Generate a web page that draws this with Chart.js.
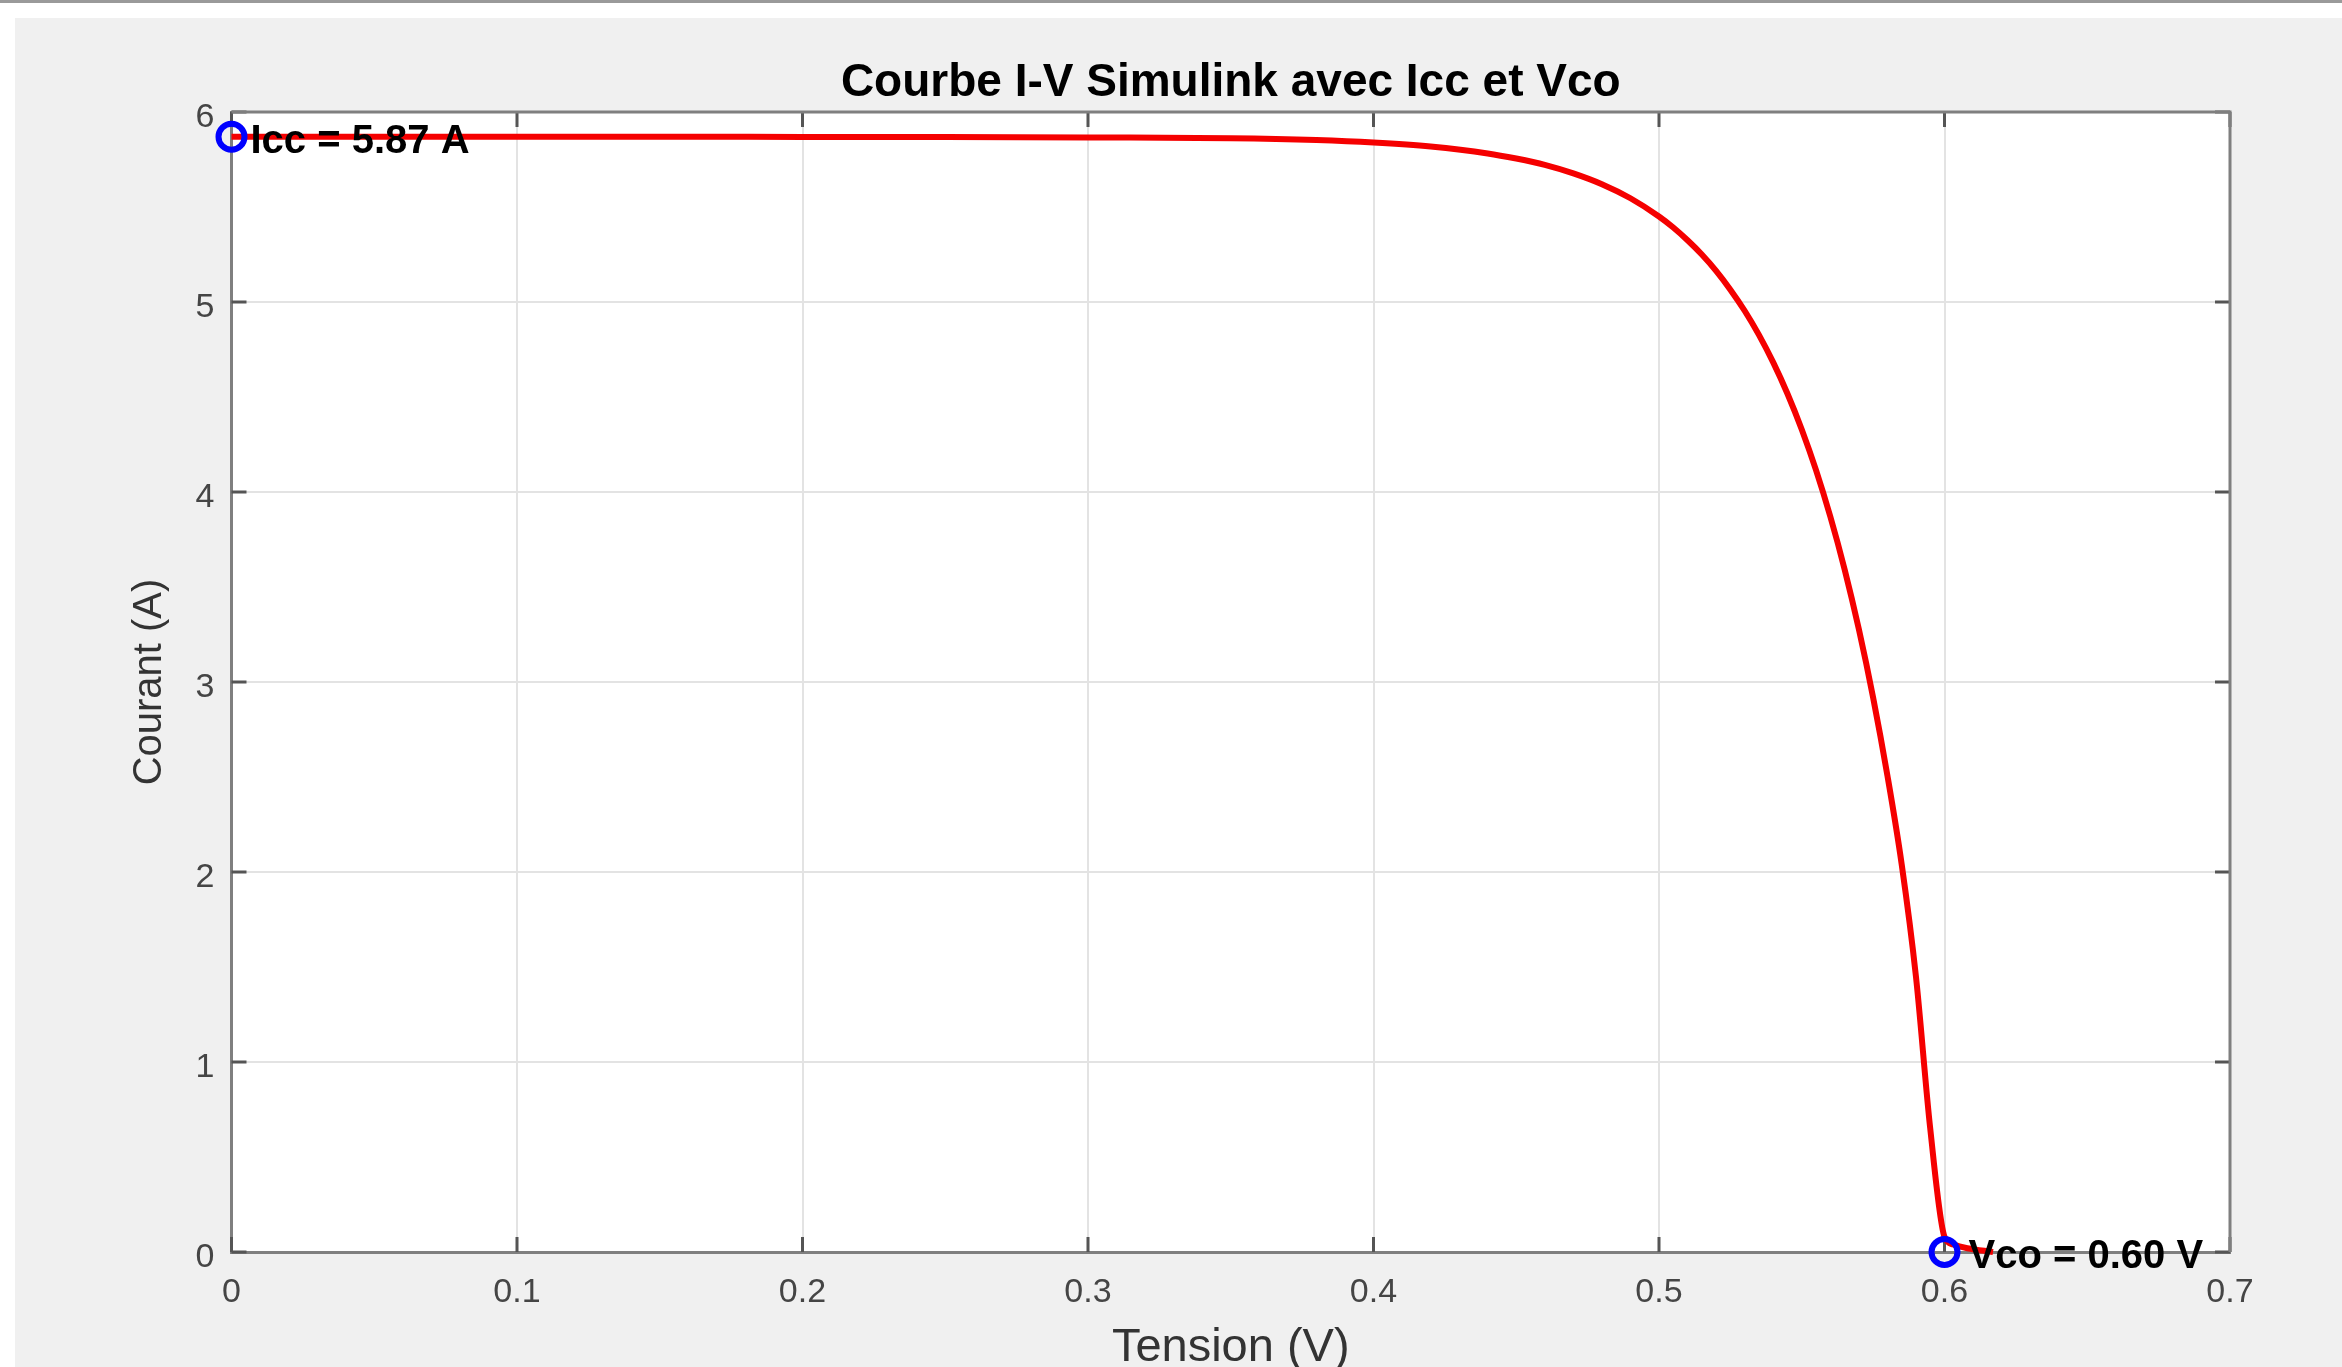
<!DOCTYPE html>
<html>
<head>
<meta charset="utf-8">
<script src="https://cdn.jsdelivr.net/npm/chart.js@4.4.1/dist/chart.umd.min.js"></script>
<style>
  html, body { margin: 0; padding: 0; background: #fff; }
  #wrap { position: relative; width: 2342px; height: 1367px; overflow: hidden; background: #fff; }
  #topline { position: absolute; left: 0; top: 0; width: 2342px; height: 3px; background: #9a9a9a; }
  #fig { position: absolute; left: 15px; top: 18px; right: 0; bottom: 0; background: #f0f0f0; }
  canvas { position: absolute; left: 0; top: 0; }
</style>
</head>
<body>
<div id="wrap">
  <div id="topline"></div>
  <div id="fig"></div>
  <canvas id="chart" width="2342" height="1367"></canvas>
</div>
<script>
// courbe I-V
const tensionV = [0, 0.05, 0.1, 0.15, 0.2, 0.25, 0.3, 0.35, 0.38, 0.4, 0.42, 0.44, 0.45, 0.46, 0.47, 0.48, 0.49, 0.5, 0.505, 0.51, 0.515, 0.52, 0.525, 0.53, 0.535, 0.54, 0.545, 0.55, 0.555, 0.56, 0.565, 0.57, 0.575, 0.58, 0.585, 0.59, 0.595, 0.6, 0.603, 0.608, 0.617];
const courantA = [5.87, 5.87, 5.87, 5.87, 5.869, 5.868, 5.866, 5.862, 5.852, 5.839, 5.818, 5.782, 5.755, 5.722, 5.677, 5.620, 5.546, 5.450, 5.392, 5.325, 5.250, 5.164, 5.065, 4.954, 4.827, 4.682, 4.517, 4.329, 4.115, 3.871, 3.594, 3.278, 2.918, 2.508, 2.041, 1.45, 0.65, 0.08, 0.04, 0.02, 0.0];

const iccValue = 5.87;
const vcoValue = 0.60;

const xTickLabels = ['0', '0.1', '0.2', '0.3', '0.4', '0.5', '0.6', '0.7'];
const yTickLabels = ['0', '1', '2', '3', '4', '5', '6'];

const titleText = 'Courbe I-V Simulink avec Icc et Vco';
const xTitle = 'Tension (V)';
const yTitle = 'Courant (A)';

const FONT = '"Liberation Sans", Arial, Helvetica, sans-serif';

// fond blanc de la zone de tracé
const plotBg = {
  id: 'plotBg',
  beforeDraw(chart) {
    const { ctx, chartArea: a } = chart;
    ctx.save();
    ctx.fillStyle = '#ffffff';
    ctx.fillRect(a.left, a.top, a.right - a.left, a.bottom - a.top);
    ctx.restore();
  }
};

// cadre + petites graduations vers l'intérieur (style MATLAB)
const boxTicks = {
  id: 'boxTicks',
  beforeDatasetsDraw(chart) {
    const { ctx, chartArea: a, scales } = chart;
    const len = 15;
    ctx.save();
    ctx.strokeStyle = '#555555';
    ctx.lineWidth = 3;
    ctx.beginPath();
    scales.x.ticks.forEach(t => {
      const px = scales.x.getPixelForValue(t.value);
      ctx.moveTo(px, a.bottom); ctx.lineTo(px, a.bottom - len);
      ctx.moveTo(px, a.top); ctx.lineTo(px, a.top + len);
    });
    scales.y.ticks.forEach(t => {
      const py = scales.y.getPixelForValue(t.value);
      ctx.moveTo(a.left, py); ctx.lineTo(a.left + len, py);
      ctx.moveTo(a.right, py); ctx.lineTo(a.right - len, py);
    });
    ctx.stroke();
    ctx.strokeStyle = '#7f7f7f';
    ctx.beginPath();
    ctx.moveTo(a.left, a.top); ctx.lineTo(a.right, a.top); ctx.lineTo(a.right, a.bottom);
    ctx.stroke();
    ctx.restore();
  }
};

// étiquettes Icc / Vco
const pointLabels = {
  id: 'pointLabels',
  afterDatasetsDraw(chart) {
    const { ctx, scales } = chart;
    ctx.save();
    ctx.fillStyle = '#000000';
    ctx.font = 'bold 40px ' + FONT;
    ctx.textAlign = 'left';
    ctx.textBaseline = 'middle';
    ctx.fillText('Icc = ' + iccValue.toFixed(2) + ' A', scales.x.getPixelForValue(0) + 19, scales.y.getPixelForValue(iccValue) + 5);
    ctx.fillText('Vco = ' + vcoValue.toFixed(2) + ' V', scales.x.getPixelForValue(vcoValue) + 24, scales.y.getPixelForValue(0) + 5);
    ctx.restore();
  }
};

new Chart(document.getElementById('chart'), {
  type: 'scatter',
  data: {
    datasets: [
      {
        label: 'points',
        data: [{ x: 0, y: iccValue }, { x: vcoValue, y: 0 }],
        pointRadius: 13,
        pointBorderWidth: 6,
        pointBorderColor: '#0000ff',
        pointBackgroundColor: 'rgba(0,0,0,0)',
        showLine: false,
        clip: false,
        order: 1
      },
      {
        label: 'I-V',
        data: tensionV.map((v, i) => ({ x: v, y: courantA[i] })),
        showLine: true,
        borderColor: '#f50000',
        borderWidth: 6,
        pointRadius: 0,
        cubicInterpolationMode: 'monotone',
        clip: false,
        order: 2
      }
    ]
  },
  options: {
    responsive: false,
    animation: false,
    devicePixelRatio: 1,
    layout: { padding: { left: 0, right: 112, top: 0, bottom: 0 } },
    plugins: {
      legend: { display: false },
      tooltip: { enabled: false },
      title: {
        display: true,
        text: titleText,
        fullSize: false,
        color: '#000000',
        font: { family: FONT, size: 46, weight: 'bold', lineHeight: 1.2 },
        padding: { top: 55.4, bottom: 1.4 }
      }
    },
    scales: {
      x: {
        type: 'linear',
        min: 0, max: 0.7,
        afterFit(axis) { axis.height = 115; },
        ticks: {
          stepSize: 0.1,
          padding: 20,
          color: '#454545',
          font: { family: FONT, size: 34 },
          callback: (v, i) => xTickLabels[i]
        },
        grid: { color: '#e3e3e3', lineWidth: 2, drawTicks: false },
        border: { color: '#7f7f7f', width: 3 },
        title: {
          display: true, text: xTitle, color: '#333333',
          font: { family: FONT, size: 47, lineHeight: 1 },
          padding: { top: 0, bottom: -5 }
        }
      },
      y: {
        type: 'linear',
        min: 0, max: 6,
        afterFit(axis) { axis.width = 231.5; },
        ticks: {
          stepSize: 1,
          padding: 17,
          color: '#454545',
          font: { family: FONT, size: 34 },
          callback: (v, i) => yTickLabels[i],
          labelOffset: 6
        },
        grid: { color: '#e3e3e3', lineWidth: 2, drawTicks: false },
        border: { color: '#7f7f7f', width: 3 },
        title: {
          display: true, text: yTitle, color: '#333333',
          font: { family: FONT, size: 40, lineHeight: 1.2 },
          padding: { top: 126, bottom: 0 }
        }
      }
    }
  },
  plugins: [plotBg, boxTicks, pointLabels]
});
</script>
</body>
</html>
